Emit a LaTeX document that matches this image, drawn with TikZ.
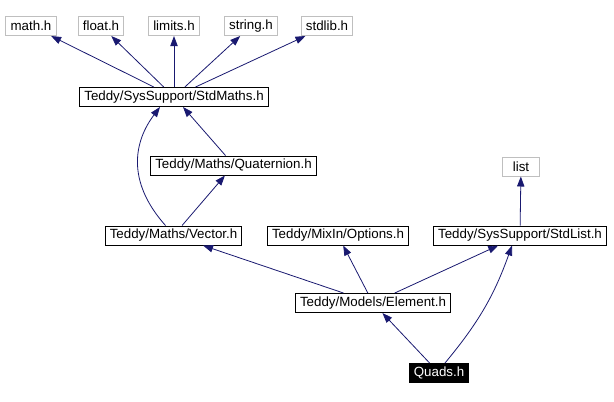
\documentclass[tikz,border=0pt]{standalone}
\usepackage{fontspec}
\setmainfont{Liberation Sans}
\definecolor{includenavy}{HTML}{191970}
\definecolor{includegray}{HTML}{BFBFBF}
\usetikzlibrary{arrows.meta,calc}
\tikzset{
    includebox/.style={
        draw=black,
        fill=white,
        line width=0.75pt,
        minimum height=14.25pt,
        inner xsep=3.5pt,
        inner ysep=0pt,
        font=\fontsize{10}{12}\selectfont
    },
    includeexternal/.style={
        includebox,
        draw=includegray
    },
    includeroot/.style={
        includebox,
        fill=black,
        text=white
    },
    includearrow/.style={
        -{Triangle[length=7.5pt,width=5.5pt]},
        draw=includenavy,
        line width=0.6pt
    }
}

\begin{document}
\begin{tikzpicture}[x=0.75pt,y=-0.75pt]
        \useasboundingbox (0,0) rectangle (614,401);

        \node[includeexternal] (mathh) at (31,26) {math.h};
        \node[includeexternal] (floath) at (101,26) {float.h};
        \node[includeexternal] (limitsh) at (174,26) {limits.h};
        \node[includeexternal] (stringh) at (251,26) {string.h};
        \node[includeexternal] (stdlibh) at (327,26) {stdlib.h};
        \node[includebox] (stdmaths) at (174,97) {Teddy/SysSupport/StdMaths.h};
        \node[includebox] (quaternion) at (233.5,165.5) {Teddy/Maths/Quaternion.h};
        \node[includeexternal,minimum width=27.75pt] (list) at (521,166.5) {list};
        \node[includebox] (vector) at (173.5,235.5) {Teddy/Maths/Vector.h};
        \node[includebox] (options) at (338,235.5) {Teddy/MixIn/Options.h};
        \node[includebox] (stdlist) at (520,235.5) {Teddy/SysSupport/StdList.h};
        \node[includebox] (element) at (373,303) {Teddy/Models/Element.h};
        \node[includeroot] (quads) at (439,373) {Quads.h};

        \draw[includearrow] (stdmaths) -- (mathh);
        \draw[includearrow] (stdmaths) -- (floath);
        \draw[includearrow] (stdmaths) -- (limitsh);
        \draw[includearrow] (stdmaths) -- (stringh);
        \draw[includearrow] (stdmaths) -- (stdlibh);
        \draw[includearrow] ($(quaternion.north)+(-8,0)$) -- ($(stdmaths.south)+(9,0)$);
        \draw[includearrow] ($(vector.north)+(-8,0)$)
            .. controls (125,180) and (135,140) .. ($(stdmaths.south)+(-14,0)$);
        \draw[includearrow] (vector) -- (quaternion);
        \draw[includearrow] (stdlist) -- (list);
        \draw[includearrow] (element) -- (vector);
        \draw[includearrow] (element) -- (options);
        \draw[includearrow] (element) -- (stdlist);
        \draw[includearrow] (quads) -- (element);
        \draw[includearrow] ($(quads.north)+(6,0)$) to[bend right=10] ($(stdlist.south)+(-8,0)$);
    \end{tikzpicture}
\end{document}
